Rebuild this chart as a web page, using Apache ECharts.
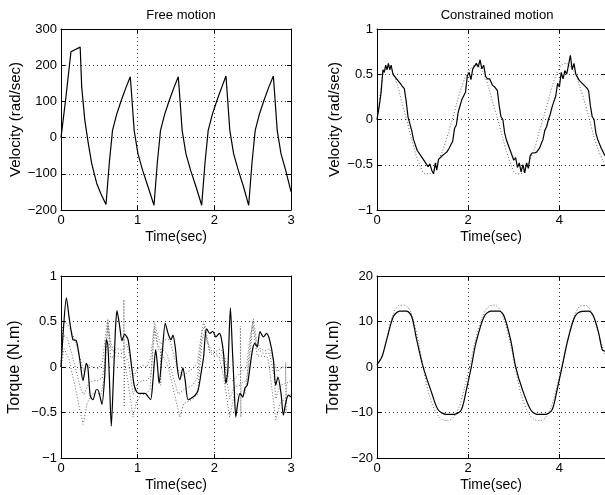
<!DOCTYPE html>
<html><head><meta charset="utf-8">
<script src="https://cdn.jsdelivr.net/npm/echarts@6/dist/echarts.min.js"></script>
<style>html,body{margin:0;padding:0;background:#fff}#c{width:605px;height:495px}</style>
</head><body><div id="c"></div>
<script>
// ---- data ----
const titles = ["Free motion", "Constrained motion"];
const xName = "Time(sec)";
const yNames = ["Velocity (rad/sec)", "Velocity (rad/sec)", "Torque (N.m)", "Torque (N.m)"];

// Free motion velocity (t, rad/sec)
const freeVel = [[0,0],[0.06,104],[0.13,237],[0.25,250],[0.27,140],[0.31,49],[0.356,-16],[0.40,-71],[0.465,-126],[0.52,-155],[0.587,-185],
 [0.63,-70],[0.672,20],[0.727,65],[0.787,103],[0.847,138],[0.904,168],[0.924,110],[0.954,20],[1.004,-45],[1.064,-90],[1.134,-135],[1.213,-187],
 [1.256,-70],[1.298,20],[1.353,65],[1.413,103],[1.473,138],[1.53,168],[1.55,110],[1.58,20],[1.63,-45],[1.69,-90],[1.76,-135],[1.835,-187],
 [1.878,-70],[1.92,20],[1.975,65],[2.035,103],[2.095,138],[2.152,170],[2.172,110],[2.202,20],[2.252,-45],[2.312,-90],[2.38,-135],[2.448,-187],
 [2.491,-70],[2.533,20],[2.588,65],[2.648,103],[2.708,138],[2.77,170],[2.79,110],[2.82,20],[2.87,-45],[2.93,-90],[3.0,-149]];

// Constrained motion velocity: measured (solid) and reference (dotted)
const conVel = [[0,0],[0.05,0.15],[0.09,0.3],[0.13,0.55],[0.16,0.52],[0.19,0.6],[0.22,0.55],[0.25,0.62],[0.28,0.55],[0.31,0.6],[0.35,0.5],[0.39,0.52],[0.43,0.45],[0.47,0.46],[0.51,0.40],[0.55,0.37],[0.60,0.34],[0.64,0.2],[0.68,0.03],[0.72,0.01],[0.76,-0.12],[0.80,-0.22],[0.84,-0.24],[0.88,-0.34],[0.92,-0.32],[0.96,-0.40],[1.00,-0.38],[1.04,-0.46],[1.08,-0.45],[1.12,-0.52],[1.16,-0.49],[1.20,-0.56],[1.24,-0.60],[1.28,-0.48],[1.31,-0.56],[1.35,-0.44],[1.39,-0.43],[1.43,-0.40],[1.48,-0.38],[1.53,-0.36],[1.58,-0.32],[1.62,-0.28],[1.66,-0.24],[1.70,-0.10],[1.74,-0.06],[1.78,0.08],[1.82,0.10],[1.86,0.22],[1.90,0.26],[1.94,0.30],[1.98,0.48],[2.02,0.52],[2.06,0.44],[2.10,0.56],[2.14,0.54],[2.18,0.62],[2.22,0.58],[2.26,0.66],[2.30,0.56],[2.34,0.60],[2.38,0.48],[2.42,0.45],[2.47,0.45],[2.53,0.38],[2.58,0.36],[2.64,0.32],[2.68,0.15],[2.72,0.03],[2.76,0.0],[2.80,-0.15],[2.84,-0.23],[2.88,-0.25],[2.92,-0.34],[2.96,-0.35],[3.00,-0.45],[3.04,-0.42],[3.08,-0.53],[3.12,-0.48],[3.16,-0.58],[3.20,-0.50],[3.24,-0.59],[3.28,-0.48],[3.32,-0.54],[3.36,-0.40],[3.40,-0.37],[3.45,-0.37],[3.50,-0.36],[3.56,-0.32],[3.60,-0.27],[3.64,-0.22],[3.68,-0.12],[3.72,-0.08],[3.76,0.0],[3.80,0.06],[3.84,0.14],[3.88,0.20],[3.92,0.26],[3.96,0.40],[4.00,0.36],[4.04,0.52],[4.08,0.45],[4.12,0.54],[4.16,0.5],[4.20,0.60],[4.24,0.71],[4.28,0.55],[4.32,0.62],[4.36,0.50],[4.40,0.52],[4.44,0.43],[4.48,0.44],[4.54,0.38],[4.60,0.35],[4.64,0.32],[4.68,0.15],[4.72,0.03],[4.76,0.0],[4.80,-0.15],[4.84,-0.22],[4.88,-0.24],[4.92,-0.32],[4.96,-0.33],[5.00,-0.40]];
const conVelRef = [[0,0],[0.05,0.2],[0.1,0.4],[0.15,0.52],[0.25,0.58],[0.35,0.52],[0.45,0.38],[0.55,0.18],[0.65,0.0],[0.75,-0.2],[0.85,-0.38],[0.95,-0.52],[1.05,-0.6],[1.15,-0.6],[1.25,-0.55],[1.35,-0.45],[1.45,-0.33],[1.55,-0.17],[1.65,0.0],[1.75,0.18],[1.85,0.35],[1.95,0.48],[2.05,0.56],[2.15,0.6],[2.25,0.58],[2.35,0.5],[2.45,0.35],[2.55,0.17],[2.65,0.0],[2.75,-0.19],[2.85,-0.37],[2.95,-0.52],[3.05,-0.6],[3.15,-0.6],[3.25,-0.55],[3.35,-0.45],[3.45,-0.33],[3.55,-0.15],[3.65,0.02],[3.75,0.2],[3.85,0.38],[3.95,0.52],[4.05,0.6],[4.15,0.62],[4.25,0.58],[4.35,0.5],[4.45,0.36],[4.55,0.2],[4.65,0.02],[4.75,-0.18],[4.85,-0.33],[4.95,-0.45],[5.0,-0.5]];

// Free motion torque: solid and three dotted traces
const freeTorq = [[0,0.0],[0.03,0.4],[0.07,0.76],[0.11,0.52],[0.156,0.30],[0.2,0.29],[0.244,0.085],[0.287,-0.15],[0.31,-0.05],[0.33,0.04],[0.35,0.0],[0.382,-0.32],[0.417,-0.36],[0.46,-0.25],[0.48,-0.25],[0.518,-0.36],[0.535,-0.41],[0.57,-0.10],[0.59,0.30],[0.61,0.25],[0.63,-0.1],[0.656,-0.65],[0.685,-0.1],[0.71,0.41],[0.73,0.62],[0.765,0.45],[0.795,0.29],[0.83,0.36],[0.875,0.30],[0.926,-0.03],[0.96,-0.22],[1.01,-0.29],[1.095,-0.29],[1.14,-0.33],[1.17,-0.36],[1.2,-0.14],[1.235,0.19],[1.255,0.05],[1.28,-0.18],[1.32,0.15],[1.36,0.48],[1.40,0.36],[1.435,0.3],[1.46,0.35],[1.49,0.22],[1.52,-0.03],[1.55,-0.14],[1.59,-0.01],[1.62,-0.15],[1.66,-0.36],[1.75,-0.31],[1.79,-0.25],[1.83,-0.05],[1.86,0.11],[1.88,0.33],[1.90,0.42],[1.94,0.37],[1.98,0.39],[2.02,0.33],[2.065,0.37],[2.09,0.32],[2.12,0.15],[2.15,-0.18],[2.175,-0.05],[2.21,0.65],[2.235,0.2],[2.26,-0.25],[2.28,-0.55],[2.305,-0.4],[2.335,-0.29],[2.37,-0.33],[2.40,-0.23],[2.43,-0.2],[2.465,0.0],[2.5,0.2],[2.53,0.26],[2.56,0.22],[2.595,0.39],[2.64,0.33],[2.68,0.37],[2.72,0.3],[2.77,0.08],[2.80,-0.2],[2.83,-0.11],[2.87,-0.29],[2.90,-0.53],[2.93,-0.4],[2.965,-0.31],[3.0,-0.33]];
const freeTorqDotA = [[0,0.0],[0.02,0.45],[0.06,0.5],[0.12,0.42],[0.18,0.3],[0.24,0.12],[0.30,-0.05],[0.36,0.02],[0.42,0.0],[0.48,-0.02],[0.54,0.05],[0.58,0.35],[0.61,0.53],[0.64,0.3],[0.68,0.18],[0.74,0.2],[0.80,0.18],[0.86,0.25],[0.90,0.1],[0.95,-0.1],[1.0,-0.02],[1.06,0.02],[1.12,0.0],[1.17,0.1],[1.22,0.5],[1.26,0.35],[1.30,0.25],[1.36,0.3],[1.42,0.3],[1.48,0.1],[1.54,-0.05],[1.60,-0.1],[1.66,-0.05],[1.72,-0.02],[1.78,0.05],[1.82,0.3],[1.86,0.5],[1.90,0.3],[1.96,0.18],[2.02,0.17],[2.08,0.2],[2.14,0.1],[2.18,-0.1],[2.24,-0.15],[2.30,-0.1],[2.36,-0.05],[2.42,0.0],[2.46,0.3],[2.51,0.53],[2.55,0.3],[2.60,0.2],[2.66,0.18],[2.72,0.2],[2.78,0.05],[2.82,-0.05],[2.88,0.0],[2.94,0.0],[3.0,0.0]];
const freeTorqDotB = [[0,0.0],[0.03,0.35],[0.08,0.32],[0.14,0.15],[0.2,-0.05],[0.26,-0.25],[0.3,-0.3],[0.36,-0.18],[0.42,-0.15],[0.48,-0.15],[0.54,-0.12],[0.58,0.1],[0.61,0.5],[0.65,0.2],[0.72,0.15],[0.78,0.15],[0.82,0.15],[0.82,0.74],[0.825,-0.44],[0.83,0.14],[0.88,0.05],[0.94,-0.3],[1.0,-0.18],[1.06,-0.15],[1.12,-0.15],[1.17,-0.1],[1.22,0.45],[1.26,0.25],[1.30,0.2],[1.30,-0.2],[1.31,0.2],[1.38,0.15],[1.46,-0.1],[1.53,-0.3],[1.6,-0.25],[1.66,-0.22],[1.72,-0.2],[1.78,-0.12],[1.84,0.4],[1.88,0.45],[1.94,0.17],[2.0,0.14],[2.08,0.15],[2.14,0.0],[2.2,-0.35],[2.26,-0.22],[2.34,-0.2],[2.34,0.45],[2.345,-0.55],[2.35,-0.18],[2.42,-0.15],[2.46,0.2],[2.5,0.5],[2.56,0.2],[2.64,0.15],[2.72,0.15],[2.78,-0.1],[2.8,-0.35],[2.86,-0.2],[2.93,-0.18],[2.93,0.05],[2.935,-0.5],[2.94,-0.18],[3.0,-0.15]];
const freeTorqDotC = [[0,0.0],[0.04,0.2],[0.1,0.1],[0.18,-0.2],[0.24,-0.45],[0.29,-0.63],[0.34,-0.4],[0.40,-0.3],[0.46,-0.28],[0.52,-0.3],[0.57,-0.1],[0.61,0.45],[0.65,0.1],[0.70,0.12],[0.76,0.12],[0.82,0.1],[0.88,-0.2],[0.94,-0.55],[0.98,-0.4],[1.04,-0.3],[1.10,-0.3],[1.16,-0.25],[1.22,0.4],[1.27,0.2],[1.33,0.12],[1.40,0.0],[1.48,-0.3],[1.55,-0.55],[1.60,-0.4],[1.66,-0.38],[1.72,-0.35],[1.78,-0.3],[1.84,0.3],[1.88,0.4],[1.94,0.15],[2.0,0.12],[2.06,0.12],[2.12,-0.1],[2.2,-0.55],[2.26,-0.3],[2.32,-0.3],[2.40,-0.3],[2.46,0.1],[2.50,0.45],[2.56,0.12],[2.64,0.12],[2.70,0.1],[2.76,-0.3],[2.80,-0.58],[2.86,-0.4],[2.92,-0.35],[3.0,-0.3]];

// Constrained motion torque: measured (solid) and reference (dotted)
const conTorq = [[0,0.5],[0.11,2.3],[0.22,6.3],[0.36,11.1],[0.5,12.3],[0.65,12.3],[0.76,11.1],[0.87,6.0],[1.01,0.1],[1.2,-5.7],[1.34,-9.4],[1.52,-10.4],[1.70,-10.4],[1.85,-9.4],[1.96,-5.0],[2.07,0.1],[2.17,5.3],[2.35,11.1],[2.5,12.3],[2.68,12.3],[2.79,11.1],[2.93,6.0],[3.04,0.1],[3.19,-5.0],[3.37,-9.4],[3.51,-10.4],[3.70,-10.4],[3.84,-9.4],[3.95,-5.0],[4.06,0.1],[4.17,5.3],[4.31,10.4],[4.42,12.0],[4.64,12.3],[4.75,11.1],[4.86,7.5],[4.94,3.8],[5.0,3.5]];
const conTorqRef = [[0,0.5],[0.12,2.5],[0.24,7.5],[0.36,11.8],[0.48,13.5],[0.6,13.6],[0.72,12.5],[0.82,9.5],[0.92,5.0],[1.02,-0.5],[1.14,-6],[1.28,-9.8],[1.42,-11.5],[1.55,-11.8],[1.68,-11],[1.8,-8.8],[1.92,-4.5],[2.04,0.5],[2.16,6],[2.3,10.8],[2.44,13.2],[2.58,13.6],[2.7,12.5],[2.82,9.3],[2.94,4.5],[3.04,-0.5],[3.16,-6],[3.3,-9.8],[3.44,-11.5],[3.58,-11.8],[3.7,-11],[3.82,-8.8],[3.94,-4.5],[4.06,0.5],[4.18,6],[4.32,11],[4.46,13.4],[4.58,13.5],[4.7,12.2],[4.8,9.5],[4.9,6],[5.0,2.5]];

// axis ranges / ticks
const xRanges = [[0,3,1],[0,5,2],[0,3,1],[0,5,2]];
const yRanges = [[-200,300,100],[-1,1,0.5],[-1,1,0.5],[-20,20,10]];

// ---- chart ----
const FONT = "Liberation Sans";
const grids = [
  {left:61, top:29, width:230, height:181},
  {left:377, top:29, width:230, height:181},
  {left:61, top:276, width:230, height:182},
  {left:377, top:276, width:230, height:182}
];
const fmt = v => String(v).replace('-', '\u2212');
const xAxes = [], yAxes = [];
grids.forEach((g, i) => {
  const [xmin, xmax, xint] = xRanges[i];
  const [ymin, ymax, yint] = yRanges[i];
  const common = {
    type:'value', gridIndex:i,
    axisLine:{show:true, onZero:false, lineStyle:{color:'#000', width:1}},
    axisTick:{show:true, inside:true, length:4, lineStyle:{color:'#000'}},
  };
  xAxes.push(Object.assign({}, common, {
    position:'bottom', min:xmin, max:xmax, interval:xint,
    name:xName, nameLocation:'middle', nameGap:20,
    nameTextStyle:{fontFamily:FONT, fontSize:14, color:'#000'},
    axisLabel:{fontFamily:FONT, fontSize:13, color:'#000', margin:4, showMaxLabel: i%2===0, formatter:fmt},
    splitLine:{show:true, lineStyle:{color:'#333', type:[1,3], width:1}}
  }));
  xAxes.push(Object.assign({}, common, {
    position:'top', min:xmin, max:xmax, interval:xint,
    axisLabel:{show:false}, splitLine:{show:false}
  }));
  yAxes.push(Object.assign({}, common, {
    position:'left', min:ymin, max:ymax, interval:yint,
    name:yNames[i], nameLocation:'middle', nameGap: (i%2===0 ? 38 : 35),
    nameTextStyle:{fontFamily:FONT, fontSize:(i<2?15:16), color:'#000'},
    axisLabel:{fontFamily:FONT, fontSize:13, color:'#000', margin:4, formatter:fmt},
    splitLine:{show:true, lineStyle:{color:'#333', type:[1,3], width:1}}
  }));
  yAxes.push(Object.assign({}, common, {
    position:'right', min:ymin, max:ymax, interval:yint,
    axisLabel:{show:false}, splitLine:{show:false}
  }));
});

const solid = {color:'#000', width:1.2};
const dotted = {color:'#666', width:1, type:[1,2]};
function line(idx, data, style, z, smooth) {
  return {type:'line', xAxisIndex:2*idx, yAxisIndex:2*idx, data:data, showSymbol:false, symbol:'none',
          lineStyle:style, z:z, smooth:smooth||false, animation:false, silent:true};
}
const series = [
  line(0, freeVel, solid, 3),
  line(1, conVelRef, dotted, 2, 0.3),
  line(1, conVel, solid, 3),
  line(2, freeTorqDotA, dotted, 2),
  line(2, freeTorqDotB, dotted, 2),
  line(2, freeTorqDotC, dotted, 2),
  line(2, freeTorq, solid, 3, 0.25),
  line(3, conTorqRef, dotted, 2, 0.3),
  line(3, conTorq, solid, 3, 0.3)
];

const chart = echarts.init(document.getElementById('c'), null, {renderer:'canvas'});
chart.setOption({
  animation:false,
  backgroundColor:'#fff',
  title:[
    {text:titles[0], left:176, top:4, textAlign:'center', textStyle:{fontFamily:FONT, fontSize:13, fontWeight:'normal', color:'#000'}},
    {text:titles[1], left:492, top:4, textAlign:'center', textStyle:{fontFamily:FONT, fontSize:13, fontWeight:'normal', color:'#000'}}
  ],
  grid:grids,
  xAxis:xAxes,
  yAxis:yAxes,
  series:series
});
</script>
</body></html>
